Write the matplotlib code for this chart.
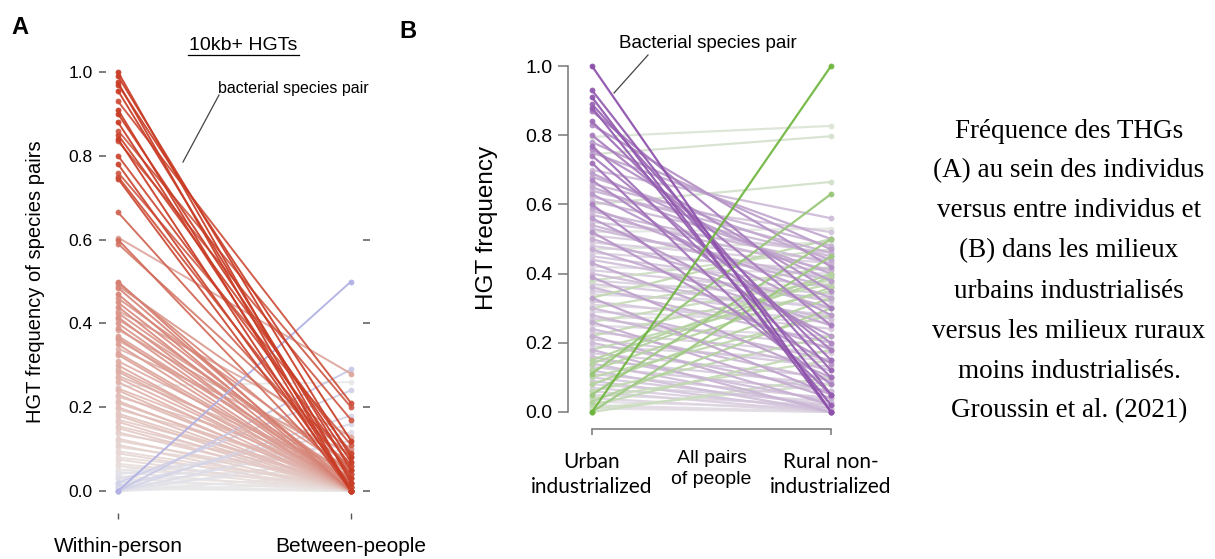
import numpy as np
import matplotlib
matplotlib.use("Agg")
import matplotlib.pyplot as plt
from matplotlib.lines import Line2D

W, H = 1215, 559
plt.rcParams['font.family'] = ['Liberation Sans', 'DejaVu Sans']

# Panel A: HGT frequency per species pair, within-person vs between-people
within_person = [1.00, 0.99, 0.975, 0.97, 0.955, 0.93, 0.91, 0.90, 0.88, 0.86, 0.85, 0.84, 0.835,
                 0.80, 0.78, 0.76, 0.75, 0.745, 0.665, 0.605, 0.60, 0.59,
                 0.50, 0.497, 0.49, 0.485, 0.47, 0.46, 0.45, 0.44, 0.43, 0.425, 0.415, 0.41, 0.40,
                 0.39, 0.385, 0.37, 0.365, 0.36, 0.35, 0.34, 0.33, 0.325, 0.31, 0.30,
                 0.29, 0.285, 0.275, 0.27, 0.26, 0.25, 0.245, 0.24, 0.23, 0.225, 0.215, 0.21, 0.20,
                 0.195, 0.185, 0.18, 0.17, 0.165, 0.155, 0.15, 0.14, 0.135, 0.125, 0.12, 0.11,
                 0.105, 0.095, 0.09, 0.08, 0.075, 0.065, 0.06, 0.05, 0.045, 0.035, 0.03, 0.02,
                 0.015, 0.01, 0.005,
                 0.00, 0.00, 0.02, 0.00, 0.01, 0.03, 0.00, 0.02, 0.00, 0.01, 0.04, 0.00, 0.02,
                 0.05, 0.00]
between_people = [0.02, 0.08, 0.00, 0.12, 0.05, 0.21, 0.00, 0.07, 0.03, 0.20, 0.09, 0.00, 0.17,
                  0.06, 0.01, 0.11, 0.04, 0.00, 0.05, 0.28, 0.02, 0.08,
                  0.00, 0.04, 0.10, 0.01, 0.00, 0.06, 0.02, 0.00, 0.13, 0.03, 0.00, 0.05, 0.01,
                  0.00, 0.07, 0.02, 0.00, 0.04, 0.00, 0.09, 0.01, 0.00, 0.03, 0.00,
                  0.02, 0.00, 0.05, 0.01, 0.00, 0.26, 0.03, 0.00, 0.01, 0.06, 0.00, 0.02, 0.00,
                  0.04, 0.01, 0.00, 0.03, 0.00, 0.02, 0.00, 0.01, 0.05, 0.00, 0.02, 0.00,
                  0.03, 0.01, 0.00, 0.02, 0.00, 0.01, 0.00, 0.02, 0.00, 0.01, 0.00, 0.01,
                  0.00, 0.00, 0.00,
                  0.50, 0.29, 0.24, 0.18, 0.16, 0.14, 0.12, 0.10, 0.08, 0.06, 0.11, 0.04, 0.07,
                  0.09, 0.02]

# Panel B: urban industrialized vs rural non-industrialized
urban = [1.00, 0.93, 0.91, 0.89, 0.88, 0.87, 0.84, 0.83, 0.80, 0.78, 0.77, 0.76, 0.75, 0.74,
         0.72, 0.70, 0.69, 0.68, 0.67, 0.66, 0.65, 0.64, 0.63, 0.62, 0.61, 0.60, 0.59, 0.58,
         0.57, 0.56, 0.55, 0.54, 0.53, 0.52, 0.51, 0.50, 0.49, 0.48, 0.47, 0.46, 0.45, 0.44,
         0.43, 0.42, 0.41, 0.40, 0.39, 0.38, 0.37, 0.36, 0.35, 0.34, 0.33, 0.32, 0.31, 0.30,
         0.29, 0.28, 0.27, 0.26, 0.25, 0.24, 0.23, 0.22, 0.21, 0.20, 0.19, 0.18, 0.17, 0.16,
         0.15, 0.14, 0.13, 0.12, 0.11, 0.10, 0.09, 0.08, 0.07, 0.06, 0.05, 0.04, 0.03, 0.02,
         0.015, 0.01,
         0.00, 0.11, 0.60, 0.05, 0.00, 0.14, 0.33, 0.12, 0.08, 0.15, 0.03, 0.10, 0.18, 0.22,
         0.06, 0.02, 0.04, 0.00, 0.01, 0.26, 0.30, 0.38,
         0.795, 0.745, 0.52, 0.47, 0.36, 0.27]
rural = [0.00, 0.05, 0.00, 0.12, 0.02, 0.30, 0.15, 0.42, 0.25, 0.47, 0.10, 0.35, 0.50, 0.18,
         0.05, 0.56, 0.38, 0.44, 0.20, 0.48, 0.40, 0.46, 0.28, 0.52, 0.45, 0.08, 0.33, 0.43,
         0.41, 0.22, 0.46, 0.36, 0.38, 0.14, 0.44, 0.30, 0.43, 0.39, 0.25, 0.41, 0.36, 0.32,
         0.18, 0.40, 0.34, 0.27, 0.10, 0.33, 0.30, 0.20, 0.28, 0.31, 0.05, 0.24, 0.27, 0.15,
         0.26, 0.12, 0.19, 0.04, 0.22, 0.09, 0.17, 0.02, 0.13, 0.06, 0.15, 0.00, 0.10, 0.03,
         0.08, 0.01, 0.06, 0.00, 0.04, 0.02, 0.00, 0.03, 0.01, 0.00, 0.02, 0.00, 0.01, 0.00,
         0.00, 0.00,
         1.00, 0.63, 0.665, 0.50, 0.45, 0.39, 0.50, 0.36, 0.33, 0.40, 0.30, 0.28, 0.35, 0.37,
         0.22, 0.18, 0.15, 0.10, 0.08, 0.38, 0.42, 0.47,
         0.827, 0.797, 0.53, 0.49, 0.37, 0.28]

a_ticks = [0.0, 0.2, 0.4, 0.6, 0.8, 1.0]
a_right_ticks = [0.0, 0.2, 0.4, 0.6]
a_groups = ['Within-person', 'Between-people']
b_groups = ['Urban\nindustrialized', 'Rural non-\nindustrialized']

grey = np.array([0.92, 0.92, 0.92])
red = np.array([0.79, 0.24, 0.15])
blue = np.array([0.55, 0.55, 0.88])
purple = np.array([0.55, 0.31, 0.67])
green = np.array([0.43, 0.71, 0.24])


def px_axes(fig, x0, x1, y0, y1):
    return fig.add_axes([x0 / W, 1 - y1 / H, (x1 - x0) / W, (y1 - y0) / H])


def draw_pairs(ax, left, right, up_col, down_col, dmax, gamma, lw):
    left = np.array(left)
    right = np.array(right)
    diff = right - left
    # weakest first, so the big changes end up on top
    for i in np.argsort(np.abs(diff)):
        t = min(abs(diff[i]) / dmax, 1.0) ** gamma
        base = up_col if diff[i] > 0 else down_col
        c = tuple(grey + (base - grey) * t)
        ax.plot([0, 1], [left[i], right[i]], color=c, lw=lw, marker='o', ms=4.2,
                mew=0, alpha=0.92, solid_capstyle='round')


def ftext(x, y, s, **kw):
    fig.text(x / W, 1 - y / H, s, **kw)


def fline(xs, ys, **kw):
    fig.add_artist(Line2D([x / W for x in xs], [1 - y / H for y in ys], **kw))


fig = plt.figure(figsize=(W / 100, H / 100), dpi=100)

# ---- panel A
axA = px_axes(fig, 106.35, 362.65, 63.6, 499.4)
draw_pairs(axA, within_person, between_people, blue, red, 0.8, 1.0, 1.4)
axA.set_xlim(-0.05, 1.05)
axA.set_ylim(-0.02, 1.02)
for s in ['top', 'right', 'left', 'bottom']:
    axA.spines[s].set_visible(False)
axA.spines['bottom'].set_position(('outward', 10))
axA.set_yticks(a_ticks)
axA.set_yticklabels(['%.1f' % v for v in a_ticks])
axA.set_xticks([0, 1])
axA.set_xticklabels(a_groups)
axA.tick_params(axis='y', length=5, width=1.2, color='#666666', pad=5, labelsize=12.5)
axA.tick_params(axis='x', length=4, width=1, color='#555555', pad=13, labelsize=15)

axR = axA.twinx()
axR.set_ylim(-0.02, 1.02)
axR.set_yticks(a_right_ticks)
axR.set_yticklabels([])
axR.tick_params(axis='y', length=5, width=1.2, color='#666666')
for s in ['top', 'right', 'left', 'bottom']:
    axR.spines[s].set_visible(False)

ftext(36, 282, 'HGT frequency of species pairs', rotation=90, ha='center', va='center', fontsize=14.5)
ftext(20, 28, 'A', fontsize=17, fontweight='bold', ha='center', va='center')
ftext(243, 45, '10kb+ HGTs', fontsize=14, ha='center', va='center')
fline([188, 299], [55, 55], color='black', lw=0.9)
ftext(293, 88, 'bacterial species pair', fontsize=11.5, ha='center', va='center')
fline([219, 183], [95, 162], color='#444444', lw=0.9)

# ---- panel B
axB = px_axes(fig, 584.8, 838.2, 59.1, 418.9)
draw_pairs(axB, urban, rural, green, purple, 1.0, 0.6, 1.6)
axB.set_xlim(-0.03, 1.03)
axB.set_ylim(-0.02, 1.02)
for s in ['top', 'right']:
    axB.spines[s].set_visible(False)
axB.spines['left'].set_position(('outward', 12))
axB.spines['left'].set_bounds(0, 1)
axB.spines['bottom'].set_position(('outward', 7))
axB.spines['bottom'].set_bounds(0, 1)
for s in ['left', 'bottom']:
    axB.spines[s].set_color('#777777')
    axB.spines[s].set_linewidth(1.1)
axB.set_yticks(a_ticks)
axB.set_yticklabels(['%.1f' % v for v in a_ticks])
axB.set_xticks([0, 1])
axB.set_xticklabels(b_groups, fontfamily='Lato', linespacing=1.3)
axB.tick_params(axis='y', length=7, width=1.1, color='#777777', pad=4, labelsize=14)
axB.tick_params(axis='x', length=4, width=1.1, color='#777777', pad=13, labelsize=15)
axB.text(0.5, -0.14, 'All pairs\nof people', transform=axB.get_xaxis_transform(),
         ha='center', va='center', fontsize=14, linespacing=1.3)

ftext(487, 228, 'HGT frequency', rotation=90, ha='center', va='center', fontsize=17.5)
ftext(408, 31, 'B', fontsize=17, fontweight='bold', ha='center', va='center')
ftext(708, 43, 'Bacterial species pair', fontsize=13.5, ha='center', va='center')
fline([648, 614], [55, 93], color='#444444', lw=0.9)

# ---- caption on the right
caption = ['Fréquence des THGs', '(A) au sein des individus', 'versus entre individus et',
           '(B) dans les milieux', 'urbains industrialisés', 'versus les milieux ruraux',
           'moins industrialisés.', 'Groussin et al. (2021)']
for k, line in enumerate(caption):
    ftext(1069, 131 + k * 40, line, family='Liberation Serif', fontsize=19.5,
          ha='center', va='center')

fig.savefig('out.png', dpi=100)
